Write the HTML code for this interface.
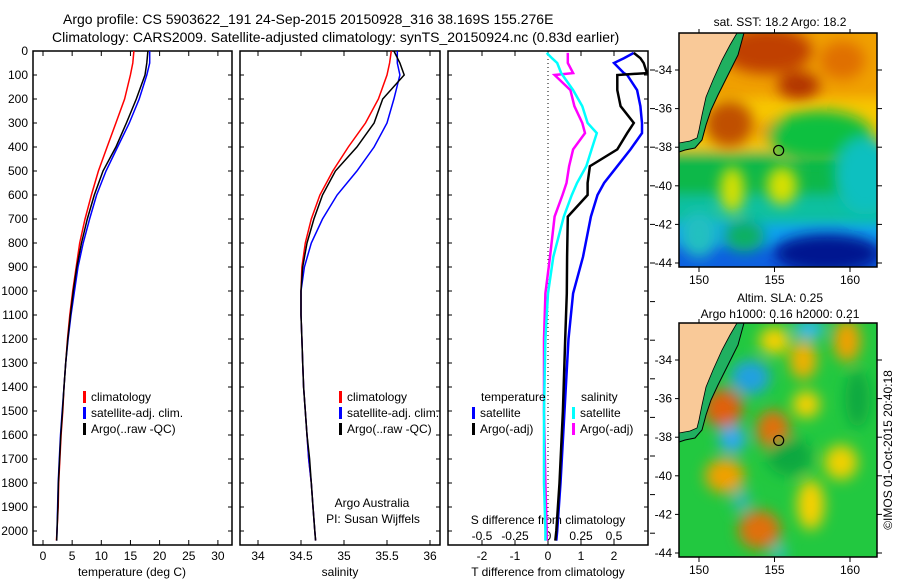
<!DOCTYPE html>
<html><head><meta charset="utf-8"><style>
body{margin:0;background:#fff;}
svg text{font-family:"Liberation Sans",sans-serif;fill:#000;}
</style></head><body>
<svg id="c" width="900" height="580" xmlns="http://www.w3.org/2000/svg">
<defs>
<filter id="bl" x="-50%" y="-50%" width="200%" height="200%"><feGaussianBlur stdDeviation="7"/></filter>
<filter id="bl2" x="-20%" y="-20%" width="140%" height="140%"><feGaussianBlur stdDeviation="6"/></filter>
<clipPath id="m1c"><rect x="679" y="33" width="198" height="234"/></clipPath>
<clipPath id="m2c"><rect x="679" y="323" width="198" height="234"/></clipPath>
</defs>
<text x="63" y="24" font-size="14">Argo profile: CS 5903622_191 24-Sep-2015 20150928_316 38.169S 155.276E</text>
<text x="52" y="42" font-size="14">Climatology: CARS2009. Satellite-adjusted climatology: synTS_20150924.nc (0.83d earlier)</text>
<g id="plots"></g>
<g id="maps"></g>
</svg>
<script>
const NS="http://www.w3.org/2000/svg";
const depths=[0,50,100,200,300,400,500,600,700,800,900,1000,1100,1200,1300,1400,1500,1600,1700,1800,1900,2000,2040];
const tempClim=[15.6,15.4,15.0,14.0,12.5,11.0,9.5,8.3,7.2,6.3,5.7,5.1,4.6,4.2,3.9,3.6,3.4,3.1,2.9,2.7,2.6,2.4,2.3];
const tempSat=[18.3,18.3,17.8,16.5,14.8,12.8,10.8,9.2,8.0,6.9,6.0,5.4,4.8,4.3,3.9,3.6,3.3,3.0,2.8,2.6,2.5,2.4,2.35];
const tempArgo=[18.0,17.8,17.5,16.0,14.3,12.5,10.3,8.8,7.6,6.6,5.8,5.2,4.7,4.25,3.9,3.6,3.35,3.05,2.85,2.65,2.55,2.4,2.35];
const salClim=[35.55,35.53,35.5,35.4,35.25,35.05,34.87,34.72,34.62,34.55,34.51,34.5,34.5,34.51,34.52,34.53,34.55,34.57,34.59,34.62,34.64,34.66,34.67];
const salSat=[35.62,35.62,35.65,35.58,35.5,35.35,35.15,34.92,34.75,34.62,34.54,34.5,34.5,34.51,34.52,34.53,34.55,34.57,34.59,34.62,34.64,34.66,34.67];
const salArgo=[35.58,35.65,35.7,35.45,35.35,35.15,34.9,34.75,34.65,34.57,34.52,34.5,34.5,34.51,34.52,34.53,34.55,34.57,34.6,34.62,34.64,34.66,34.67];
const diffDepths=[8,30,50,92,100,163,230,300,342,410,480,550,600,690,858,1010,1200,1500,1800,2000,2040];
const dTsat=[2.6,2.3,2.0,2.3,2.4,2.7,2.8,2.85,2.85,2.5,2.1,1.7,1.5,1.3,1.06,0.76,0.62,0.5,0.38,0.28,0.25];
const dTargo=[2.6,2.8,2.9,3.0,2.1,2.1,2.2,2.6,2.4,2.1,1.27,1.2,1.2,0.6,0.58,0.57,0.52,0.45,0.35,0.25,0.22];
const dSsat=[-0.01,0.03,0.07,0.1,0.11,0.19,0.26,0.3,0.37,0.33,0.29,0.22,0.18,0.12,0.04,0.0,-0.02,-0.03,-0.03,-0.02,-0.02];
const dSargo=[0.15,0.15,0.15,0.19,0.05,0.17,0.2,0.26,0.28,0.19,0.16,0.14,0.11,0.05,0.015,-0.02,-0.03,-0.03,-0.02,-0.01,-0.01];
const depthTicks=[0,100,200,300,400,500,600,700,800,900,1000,1100,1200,1300,1400,1500,1600,1700,1800,1900,2000];
const tTicks=[0,5,10,15,20,25,30];
const sTicks=[34,34.5,35,35.5,36];
const dTTicks=[-2,-1,0,1,2];
const dSTicks=[-0.5,-0.25,0,0.25,0.5];
const sstLonTicks=[150,155,160];
const latTicks=[-34,-36,-38,-40,-42,-44];

const yD=d=>51+d*0.24;
const xT=t=>43+t*5.83;
const xS=s=>258+(s-34)*86;
const xDT=t=>548+t*33;
const xDS=s=>548+s*132;
const G=document.getElementById('plots');
function el(tag,attrs,parent){const e=document.createElementNS(NS,tag);for(const k in attrs)e.setAttribute(k,attrs[k]);(parent||G).appendChild(e);return e;}
function txt(x,y,s,size,anchor,parent){const e=el('text',{x:x,y:y,'font-size':size||12,'text-anchor':anchor||'middle'},parent);e.textContent=s;return e;}

const panels=[[33,232],[240,440],[448,648]];
panels.forEach((p,i)=>{
  const r=el('rect',{x:p[0],y:51,width:p[1]-p[0],height:494,fill:'none',stroke:'#000','stroke-width':1.5});
  
  
  depthTicks.forEach(d=>{el('line',{x1:p[0],x2:p[0]+4,y1:yD(d),y2:yD(d),stroke:'#000'});el('line',{x1:p[1],x2:p[1]-4,y1:yD(d),y2:yD(d),stroke:'#000'});});
});
depthTicks.forEach(d=>{const t=txt(28,yD(d)+4,String(d),12,'end');});
function xticks(vals,fx,y0,y1,ly,lab){vals.forEach(v=>{const x=fx(v);el('line',{x1:x,x2:x,y1:51,y2:56,stroke:'#000'});el('line',{x1:x,x2:x,y1:545,y2:540,stroke:'#000'});if(lab){const t=txt(x,ly,lab(v),12);}});}
xticks(tTicks,xT,0,0,560,v=>String(v));
xticks(sTicks,xS,0,0,560,v=>String(v));
xticks(dTTicks,xDT,0,0,560,v=>String(v));
dSTicks.forEach(v=>{const t=txt(xDS(v),540,String(v),12);});
let a=txt(132,576,'temperature (deg C)',12);
a=txt(340,576,'salinity',12);
a=txt(548,576,'T difference from climatology',12);
a=txt(548,524,'S difference from climatology',12);
a=txt(372,507,'Argo Australia',12);
a=txt(373,523,'PI: Susan Wijffels',12);
for(let y=70;y<560;y+=38.6){el('line',{x1:650,x2:655,y1:y,y2:y,stroke:'#000'});}
el('line',{x1:548,x2:548,y1:51,y2:545,stroke:'#000','stroke-dasharray':'1,3'});

function line(xs,ds,fx,col,w,name){
  const pts=xs.map((v,i)=>fx(v).toFixed(1)+','+yD(ds[i]).toFixed(1)).join(' ');
  const p=el('polyline',{points:pts,fill:'none',stroke:col,'stroke-width':w});
  
  
}
line(tempClim,depths,xT,'#f00',1.5,'temp-climatology-line');
line(tempSat,depths,xT,'#00f',1.5,'temp-satellite-line');
line(tempArgo,depths,xT,'#000',1.5,'temp-argo-line');
line(salClim,depths,xS,'#f00',1.5,'sal-climatology-line');
line(salSat,depths,xS,'#00f',1.5,'sal-satellite-line');
line(salArgo,depths,xS,'#000',1.5,'sal-argo-line');
line(dSargo,diffDepths,xDS,'#f0f',2.5,'s-diff-argo-line');
line(dSsat,diffDepths,xDS,'#0ff',2.5,'s-diff-satellite-line');
line(dTsat,diffDepths,xDT,'#00f',2.5,'t-diff-satellite-line');
line(dTargo,diffDepths,xDT,'#000',2.5,'t-diff-argo-line');

function legend(x,y,col,label,name){
  const r=el('rect',{x:x,y:y-10,width:3,height:12,fill:col});
  
  const t=txt(x+8,y,label,12,'start');
}
legend(83,401,'#f00','climatology','legend-climatology');
legend(83,417,'#00f','satellite-adj. clim.','legend-satellite');
legend(83,433,'#000','Argo(..raw -QC)','legend-argo');
legend(339,401,'#f00','climatology','legend2-climatology');
legend(339,417,'#00f','satellite-adj. clim.','legend2-satellite');
legend(339,433,'#000','Argo(..raw -QC)','legend2-argo');
a=txt(481,401,'temperature',12,'start');
a=txt(581,401,'salinity',12,'start');
legend(472,417,'#00f','satellite','legend-t-satellite');
legend(472,433,'#000','Argo(-adj)','legend-t-argo');
legend(572,417,'#0ff','satellite','legend-s-satellite');
legend(572,433,'#f0f','Argo(-adj)','legend-s-argo');

// maps
const M=document.getElementById('maps');
const mx=lon=>699+(lon-150)*15.1;
function map(oy,base,blobs,title,clip,name){
  const my=lat=>oy+70+(-34-lat)*19.3;
  const g=el('g',{'clip-path':'url(#'+clip+')'},M);
  
  const bb=el('g',{filter:'url(#bl2)'},g);
  base.forEach(b=>el('rect',{x:650,y:my(b[0]),width:260,height:my(b[1])-my(b[0]),fill:b[2]},bb));
  const bg=el('g',{filter:'url(#bl)'},g);
  blobs.forEach(b=>el('ellipse',{cx:mx(b[0]),cy:my(b[1]),rx:b[2]*15.1,ry:b[3]*19.3,fill:b[4]},bg));
  const off=oy;
  el('polygon',{points:`679,${33+off} 744,${33+off} 738,${55+off} 728,${75+off} 718,${95+off} 711,${110+off} 706,${125+off} 702,${140+off} 695,${148+off} 685,${150+off} 679,${152+off}`,fill:'#20b060'},g);
  el('polygon',{points:`679,${33+off} 737,${33+off} 730,${45+off} 722,${60+off} 713,${80+off} 706,${97+off} 702,${115+off} 699,${130+off} 697,${138+off} 690,${141+off} 679,${143+off}`,fill:'#f9c998'},g);
  el('polyline',{points:`744,${33+off} 738,${55+off} 728,${75+off} 718,${95+off} 711,${110+off} 706,${125+off} 702,${140+off} 695,${148+off} 685,${150+off} 679,${152+off}`,fill:'none',stroke:'#000','stroke-width':1},g);
  el('polyline',{points:`737,${33+off} 730,${45+off} 722,${60+off} 713,${80+off} 706,${97+off} 702,${115+off} 699,${130+off} 697,${138+off} 690,${141+off} 679,${143+off}`,fill:'none',stroke:'#000','stroke-width':0.8},g);
  const c=el('circle',{cx:mx(155.276),cy:my(-38.169),r:5,fill:'none',stroke:'#000','stroke-width':1.2},M);
  
  const fr=el('rect',{x:679,y:33+off,width:198,height:234,fill:'none',stroke:'#000','stroke-width':1.5},M);
  
  sstLonTicks.forEach(l=>{el('line',{x1:mx(l),x2:mx(l),y1:267+off,y2:272+off,stroke:'#000'},M);el('line',{x1:mx(l),x2:mx(l),y1:33+off,y2:29+off,stroke:'#000'},M);const t=txt(mx(l),284+off,String(l),12,'middle',M);});
  latTicks.forEach(l=>{el('line',{x1:877,x2:882,y1:my(l),y2:my(l),stroke:'#000'},M);el('line',{x1:679,x2:675,y1:my(l),y2:my(l),stroke:'#000'},M);const t=txt(672,my(l)+4,String(l),12,'end',M);});
  title.forEach((s,i)=>{const t=txt(780,oy+(title.length==1?26:12+i*16),s,12,'middle',M);});
}
map(0,[[-31,-35.5,'#f0a000'],[-35.5,-38.2,'#f8c800'],[-38.2,-40.5,'#10b848'],[-40.5,-42,'#10c0a0'],[-42,-43,'#10a0f0'],[-43,-46,'#1060e0']],
 [[154.5,-33,3,1.2,'#c04000'],[152,-36.8,1.6,1.2,'#c05000'],[156.6,-34.8,1.4,0.7,'#b03000'],[159.5,-33.5,1.5,1,'#e07000'],[155.8,-37.2,2,0.7,'#f09000'],[158,-37.4,3.5,1.3,'#10c040'],[161,-39.5,2,2,'#10c0c0'],[152.2,-40.2,0.8,1.2,'#d8e000'],[155.5,-40,1,1,'#d8e000'],[158.5,-43.5,3.5,1,'#001890'],[153,-42.6,1.3,0.8,'#10b060'],[150,-42.5,1.2,1.2,'#20c0c0']],
 ['sat. SST: 18.2 Argo: 18.2'],'m1c','sst-map');
map(290,[[-31,-46,'#20c840']],
 [[151.6,-36.5,1.3,1.0,'#e06010'],[154.9,-37.6,1.1,1.0,'#e07010'],[154,-42.8,1.4,1.0,'#e07010'],[151.7,-40,1.3,0.9,'#f0a000'],[153.4,-34.9,1.3,0.9,'#20a0e0'],[152.2,-38.1,0.9,0.7,'#30a8f0'],[157.3,-32.4,1,0.5,'#30b8f0'],[156.9,-34,0.9,1.0,'#f0b000'],[159.8,-33,0.9,1.1,'#f0a000'],[157.1,-36.3,0.9,0.7,'#f8d000'],[157.4,-41.5,0.9,1.3,'#f8d000'],[159.4,-39.3,1.1,0.9,'#f0d000'],[155,-33,1,0.7,'#f8d000'],[152.8,-41.3,0.6,0.6,'#30b8b0'],[160.5,-36,0.8,1.5,'#10a840'],[156,-39,1.5,1,'#10a840'],[155.3,-44,0.5,0.5,'#30c0c0']],
 ['Altim. SLA: 0.25','Argo h1000: 0.16 h2000: 0.21'],'m2c','sla-map');
const cr=txt(0,0,'©IMOS 01-Oct-2015 20:40:18',12,'middle',M);
cr.setAttribute('transform','translate(892,450) rotate(-90)');


</script>
</body></html>
